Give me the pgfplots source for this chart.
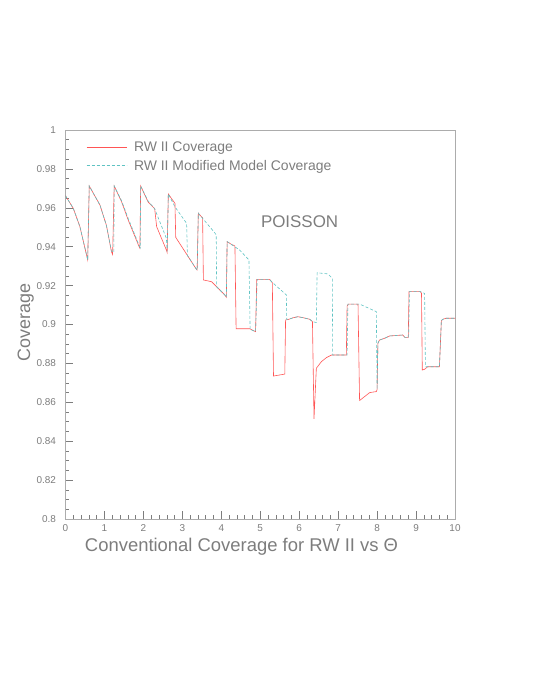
\documentclass[border=0pt]{standalone}
\usepackage{pgfplots}
\pgfplotsset{compat=1.18}
\usepackage{fontspec}
\setmainfont{Liberation Sans}

\definecolor{rwred}{RGB}{255,85,85}
\definecolor{rwcyan}{RGB}{95,195,195}
\definecolor{txtgray}{RGB}{125,125,125}

\begin{document}
\begin{tikzpicture}
\path (0,0) rectangle (535bp,692bp);
\begin{axis}[
    at={(65.5bp,173bp)}, anchor=south west,
    scale only axis, width=389.5bp, height=389bp,
    xmin=0, xmax=10, ymin=0.8, ymax=1,
    xtick={0,1,2,3,4,5,6,7,8,9,10},
    ytick={0.8,0.82,0.84,0.86,0.88,0.9,0.92,0.94,0.96,0.98,1},
    minor x tick num=4, minor y tick num=3,
    tick align=inside, xtick pos=bottom, ytick pos=left,
    major tick length=8bp, minor tick length=4bp,
    tick style={txtgray, line width=0.5pt},
    axis line style={gray!65, line width=0.6pt},
    /pgf/number format/assume math mode=true,
    ticklabel style={font=\fontsize{10}{12}\selectfont, text=txtgray},
    xticklabel style={yshift=-2bp},
    yticklabel style={xshift=-6bp},
    xlabel={Conventional Coverage for RW II vs Θ},
    xlabel style={font=\fontsize{18.5}{21}\selectfont, text=txtgray,
        at={(axis description cs:0.452,-0.0823)}, anchor=base},
    ylabel={Coverage},
    ylabel style={font=\fontsize{18}{21}\selectfont, text=txtgray,
        at={(axis description cs:-0.0911,0.505)}, anchor=base},
    legend style={draw=none, fill=none, font=\fontsize{14}{16}\selectfont,
        at={(axis description cs:0.045,0.9805)}, anchor=north west,
        row sep=3bp},
    legend cell align=left,
    legend image code/.code={\draw[#1, line width=0.8pt] (0bp,0bp) -- (40bp,0bp);},
]
% RW II
\addplot[color=rwred, line width=0.6pt] coordinates {
    (0,0.9662)(0.2,0.9597)(0.37,0.9503)(0.57,0.9332)
    (0.61,0.9712)(0.885,0.9614)(1.05,0.951)(1.18,0.9374)(1.21,0.936)
    (1.25,0.9712)(1.44,0.9631)(1.61,0.9537)(1.89,0.940)(1.91,0.9392)
    (1.93,0.9712)(2.12,0.963)(2.29,0.9595)(2.34,0.9503)(2.59,0.9383)(2.61,0.937)
    (2.64,0.9671)(2.72,0.9648)(2.81,0.9623)(2.83,0.9448)(3.36,0.9284)(3.38,0.928)
    (3.41,0.9572)(3.49,0.9554)(3.52,0.955)(3.54,0.9229)(3.75,0.922)(3.92,0.9186)(4.09,0.9152)(4.13,0.914)
    (4.15,0.9426)(4.26,0.9412)(4.35,0.9404)(4.38,0.8978)(4.73,0.8978)(4.88,0.8963)
    (4.91,0.9232)(5.24,0.9232)(5.31,0.9215)(5.34,0.8735)(5.63,0.8745)
    (5.65,0.9023)(5.72,0.9026)(5.85,0.9035)(5.97,0.904)(6.1,0.9035)(6.27,0.9027)(6.34,0.9015)
    (6.38,0.8515)(6.44,0.8775)(6.57,0.8809)(6.7,0.883)(6.83,0.8843)(7.21,0.8843)
    (7.23,0.9095)(7.26,0.9105)(7.51,0.9105)(7.55,0.8609)(7.81,0.865)(7.98,0.8655)(8.0,0.8665)
    (8.02,0.8903)(8.06,0.892)(8.19,0.8929)(8.32,0.8941)(8.66,0.8946)(8.71,0.8934)(8.8,0.8934)
    (8.82,0.9169)(9.11,0.9169)(9.14,0.916)(9.16,0.8766)(9.22,0.877)(9.3,0.8783)(9.6,0.8783)
    (9.65,0.902)(9.69,0.9027)(9.77,0.9032)(10,0.9032)
};
\addlegendentry{\hspace{5bp}\textcolor{txtgray}{RW II Coverage}}
% RW II modified model
\addplot[color=rwcyan, line width=0.6pt, dash pattern=on 3bp off 2bp] coordinates {
    (0,0.9662)(0.2,0.9597)(0.37,0.9503)(0.57,0.9332)
    (0.61,0.9712)(0.885,0.9614)(1.05,0.951)(1.18,0.9378)(1.24,0.937)
    (1.25,0.9712)(1.44,0.9636)(1.61,0.9545)(1.9,0.9402)(1.92,0.9395)
    (1.93,0.9712)(2.12,0.9635)(2.29,0.9595)(2.59,0.9443)(2.61,0.9375)
    (2.64,0.9671)(2.81,0.9605)(3.11,0.952)(3.13,0.9355)(3.36,0.9284)(3.38,0.928)
    (3.41,0.9572)(3.83,0.9472)(3.87,0.946)(3.88,0.9194)(3.92,0.9186)(4.09,0.9152)(4.13,0.914)
    (4.15,0.9426)(4.47,0.9383)(4.71,0.9332)(4.74,0.8975)(4.88,0.8963)
    (4.92,0.9232)(5.24,0.9232)(5.29,0.922)(5.67,0.9152)(5.68,0.9026)
    (5.72,0.9026)(5.85,0.9035)(5.97,0.904)(6.1,0.9035)(6.27,0.9027)(6.34,0.9015)(6.44,0.901)
    (6.46,0.9266)(6.74,0.926)(6.85,0.9237)(6.86,0.8843)(7.23,0.8843)
    (7.25,0.9105)(7.55,0.9105)(7.98,0.9066)(8.0,0.8667)
    (8.02,0.8903)(8.06,0.892)(8.19,0.8929)(8.32,0.8941)(8.66,0.8946)(8.71,0.8934)(8.81,0.8934)
    (8.83,0.9169)(9.11,0.9169)(9.22,0.916)(9.24,0.8783)(9.6,0.8783)
    (9.65,0.902)(9.69,0.9027)(9.77,0.9032)(10,0.9032)
};
\addlegendentry{\hspace{5bp}\textcolor{txtgray}{RW II Modified Model Coverage}}
\node[font=\fontsize{17}{20}\selectfont, text=txtgray] at (axis cs:6.01,0.9527) {POISSON};
\end{axis}
\end{tikzpicture}
\end{document}
